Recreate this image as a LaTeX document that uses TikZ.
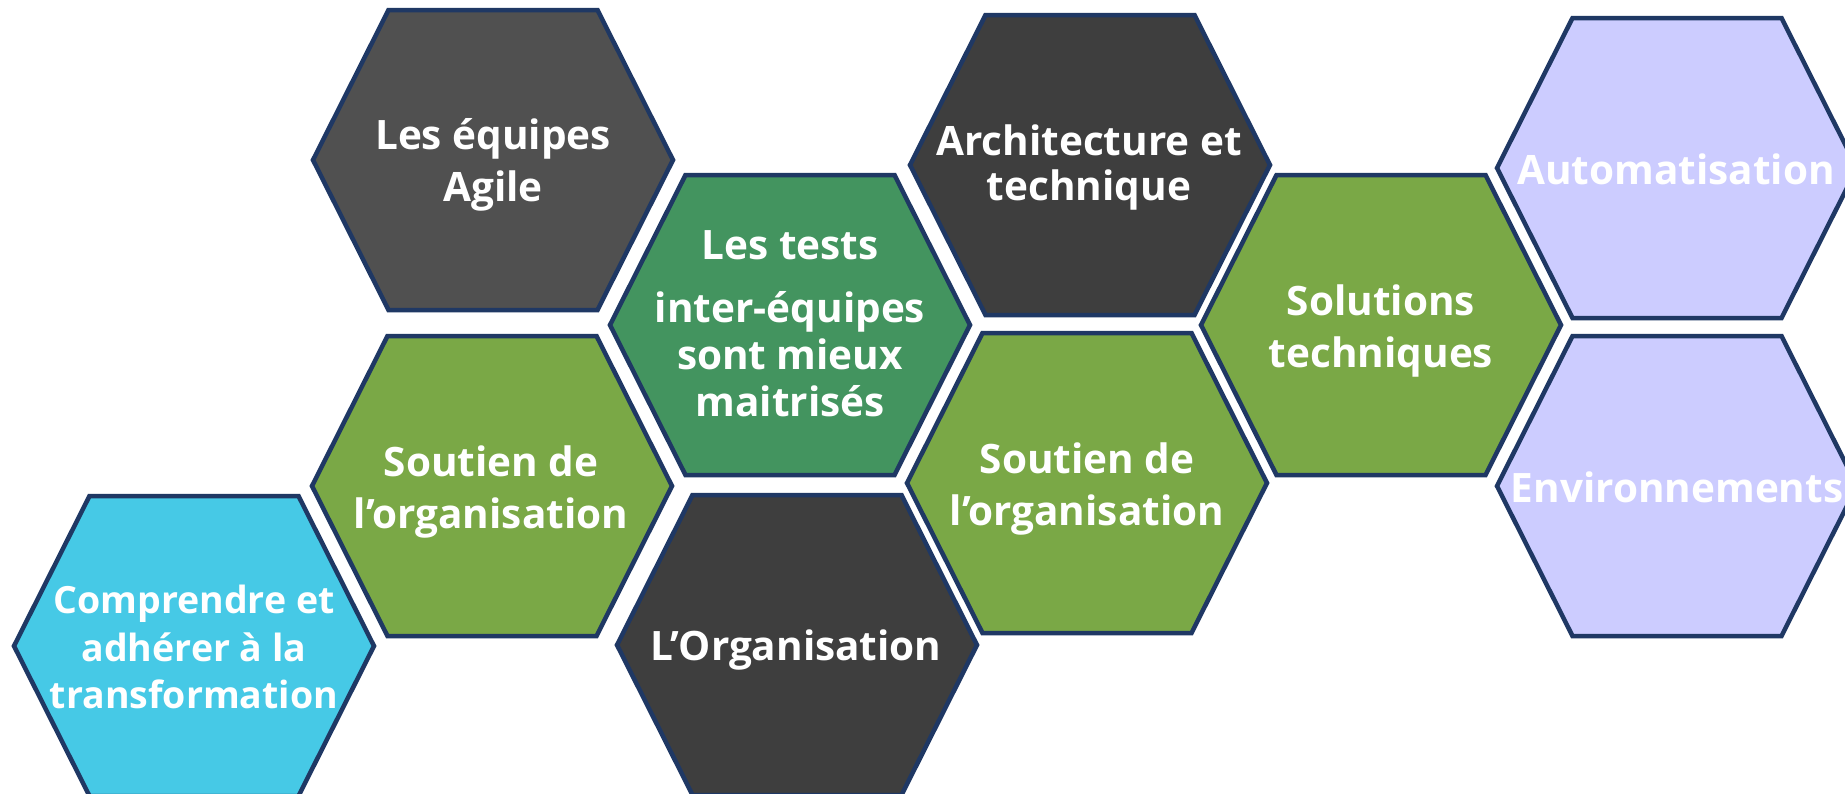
\documentclass[tikz,border=0pt]{standalone}
\usepackage{fontspec}
\setmainfont{Open Sans}
\usetikzlibrary{calc}

\definecolor{cellborder}{HTML}{1F3864}
\definecolor{greyteam}{HTML}{505050}
\definecolor{greydark}{HTML}{3E3E3E}
\definecolor{greentest}{HTML}{43945F}
\definecolor{greenleaf}{HTML}{7AA846}
\definecolor{cyancell}{HTML}{46C9E6}
\definecolor{lavender}{HTML}{CCCCFF}

\tikzset{
  hexcell/.style={draw=cellborder, line width=4.5pt},
  celltext/.style={text=white, inner sep=0pt, align=center,
    font=\bfseries\fontsize{40.5}{#1}\selectfont},
  celltext/.default=52
}

\begin{document}
\begin{tikzpicture}[x=1pt, y=-1pt, line join=miter]

  % Define the size of one cell (half width, half top edge, half height)
  \pgfmathsetmacro\cellW{180}
  \pgfmathsetmacro\cellT{104.5}
  \pgfmathsetmacro\cellH{150}
  \pgfmathsetmacro\cellS{\cellW-\cellT}

  % Fix the page
  \clip (0,0) rectangle (1845,793);
  \fill[white] (0,0) rectangle (1845,793);

  % Define the centres of the cells
  \coordinate (teams) at (493,160);
  \coordinate (tests) at (790,325);
  \coordinate (archi) at (1090,165);
  \coordinate (solutions) at (1381,325);
  \coordinate (auto) at (1677,168);
  \coordinate (env) at (1677,486);
  \coordinate (support-left) at (492,486);
  \coordinate (adhere) at (194,646);
  \coordinate (orga) at (797,645);
  \coordinate (support-right) at (1087,483);

  % Draw the cells
  \draw[hexcell, fill=greyteam] (teams) ++(-\cellW,0) -- ++(\cellS,-\cellH) -- ++(2*\cellT,0) -- ++(\cellS,\cellH) -- ++(-\cellS,\cellH) -- ++(-2*\cellT,0) -- cycle;
  \draw[hexcell, fill=greentest] (tests) ++(-\cellW,0) -- ++(\cellS,-\cellH) -- ++(2*\cellT,0) -- ++(\cellS,\cellH) -- ++(-\cellS,\cellH) -- ++(-2*\cellT,0) -- cycle;
  \draw[hexcell, fill=greydark] (archi) ++(-\cellW,0) -- ++(\cellS,-\cellH) -- ++(2*\cellT,0) -- ++(\cellS,\cellH) -- ++(-\cellS,\cellH) -- ++(-2*\cellT,0) -- cycle;
  \draw[hexcell, fill=greenleaf] (solutions) ++(-\cellW,0) -- ++(\cellS,-\cellH) -- ++(2*\cellT,0) -- ++(\cellS,\cellH) -- ++(-\cellS,\cellH) -- ++(-2*\cellT,0) -- cycle;
  \draw[hexcell, fill=lavender] (auto) ++(-\cellW,0) -- ++(\cellS,-\cellH) -- ++(2*\cellT,0) -- ++(\cellS,\cellH) -- ++(-\cellS,\cellH) -- ++(-2*\cellT,0) -- cycle;
  \draw[hexcell, fill=lavender] (env) ++(-\cellW,0) -- ++(\cellS,-\cellH) -- ++(2*\cellT,0) -- ++(\cellS,\cellH) -- ++(-\cellS,\cellH) -- ++(-2*\cellT,0) -- cycle;
  \draw[hexcell, fill=greenleaf] (support-left) ++(-\cellW,0) -- ++(\cellS,-\cellH) -- ++(2*\cellT,0) -- ++(\cellS,\cellH) -- ++(-\cellS,\cellH) -- ++(-2*\cellT,0) -- cycle;
  \draw[hexcell, fill=cyancell] (adhere) ++(-\cellW,0) -- ++(\cellS,-\cellH) -- ++(2*\cellT,0) -- ++(\cellS,\cellH) -- ++(-\cellS,\cellH) -- ++(-2*\cellT,0) -- cycle;
  \draw[hexcell, fill=greydark] (orga) ++(-\cellW,0) -- ++(\cellS,-\cellH) -- ++(2*\cellT,0) -- ++(\cellS,\cellH) -- ++(-\cellS,\cellH) -- ++(-2*\cellT,0) -- cycle;
  \draw[hexcell, fill=greenleaf] (support-right) ++(-\cellW,0) -- ++(\cellS,-\cellH) -- ++(2*\cellT,0) -- ++(\cellS,\cellH) -- ++(-\cellS,\cellH) -- ++(-2*\cellT,0) -- cycle;

  % Label the cells
  \node[celltext] (teams-text) at ($(teams)+(0,5)$) {Les équipes\\Agile};
  \node[celltext=47] (tests-text) at ($(tests)+(0,-1)$) {Les tests\\[16pt]inter-équipes\\sont mieux\\maitrisés};
  \node[celltext=45] (archi-text) at ($(archi)+(-1,2.5)$) {Architecture et\\technique};
  \node[celltext] (solutions-text) at ($(solutions)+(0,5.5)$) {Solutions\\techniques};
  \node[celltext] (auto-text) at ($(auto)+(-1,1)$) {Automatisation};
  \node[celltext] (env-text) at ($(env)+(0,1)$) {Environnements};
  \node[celltext] (support-left-text) at ($(support-left)+(-1,6)$) {Soutien de\\l’organisation};
  \node[celltext, font=\bfseries\fontsize{37.5}{47.5}\selectfont] (adhere-text) at ($(adhere)+(0,1)$) {Comprendre et\\adhérer à la\\transformation};
  \node[celltext] (orga-text) at ($(orga)+(-1,4.5)$) {L’Organisation};
  \node[celltext] (support-right-text) at ($(support-right)+(0,6)$) {Soutien de\\l’organisation};

\end{tikzpicture}
\end{document}
